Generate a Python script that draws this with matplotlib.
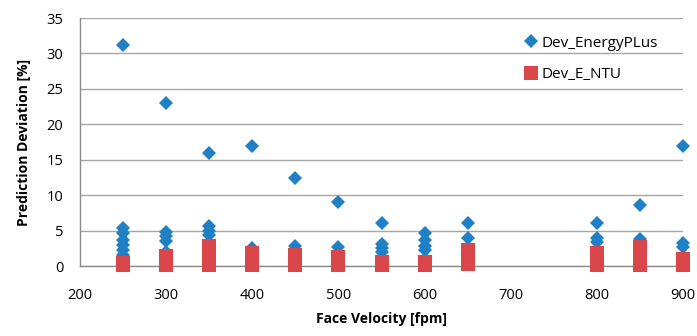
import matplotlib
matplotlib.use("Agg")
import matplotlib.pyplot as plt

# Face velocity categories [fpm]
velocities = [250, 300, 350, 400, 450, 500, 550, 600, 650, 800, 850, 900]

# Dev_EnergyPLus deviations [%] per velocity
dev_energyplus = [
    [31.2, 5.3, 4.6, 3.7, 3.0, 2.2, 1.5],
    [23.0, 4.8, 4.2, 3.5, 2.0],
    [16.0, 5.7, 5.0, 4.4, 3.0],
    [17.0, 2.6, 1.5],
    [12.4, 2.8, 1.5],
    [9.0, 2.7, 1.5],
    [6.0, 3.1, 2.6, 2.0, 1.0],
    [4.7, 3.6, 2.8, 2.2, 1.0],
    [6.1, 4.0, 2.0],
    [6.1, 3.9, 3.4, 1.5],
    [8.6, 3.8, 2.0],
    [17.0, 3.3, 2.7, 1.0],
]

# Dev_E_NTU deviations [%] per velocity
dev_e_ntu = [
    [0.2, 0.3, 0.4],
    [0.2, 0.5, 0.8, 1.1, 1.4],
    [0.2, 0.6, 1.0, 1.4, 1.8, 2.2, 2.8],
    [0.2, 0.6, 1.0, 1.4, 1.9],
    [0.2, 0.6, 1.0, 1.5],
    [0.2, 0.6, 1.0, 1.3],
    [0.2, 0.4, 0.5],
    [0.2, 0.4, 0.5],
    [0.35, 0.8, 1.3, 1.8, 2.3],
    [0.2, 0.6, 1.0, 1.4, 1.9],
    [0.2, 0.6, 1.0, 1.5, 2.0, 2.7],
    [0.2, 0.5, 0.8, 1.0],
]

x_ticks = [200, 300, 400, 500, 600, 700, 800, 900]
y_ticks = [0, 5, 10, 15, 20, 25, 30, 35]

plt.rcParams['font.family'] = ['Open Sans', 'DejaVu Sans']

fig = plt.figure(figsize=(6.97, 3.36), dpi=100)
ax = fig.add_axes([80/697, 70/336, (683-80)/697, (266-18)/336])

bx, by = [], []
for v, vals in zip(velocities, dev_energyplus):
    for y in vals:
        bx.append(v); by.append(y)
rx, ry = [], []
for v, vals in zip(velocities, dev_e_ntu):
    for y in vals:
        rx.append(v); ry.append(y)

blue = '#1f80c5'
red = '#da474a'
ax.plot(bx, by, linestyle='none', marker='D', markersize=6.8, color=blue,
        markeredgewidth=0, label='Dev_EnergyPLus', zorder=3, clip_on=False)
ax.plot(rx, ry, linestyle='none', marker='s', markersize=10.5, color=red,
        markeredgewidth=0, label='Dev_E_NTU', zorder=4, clip_on=False)

ax.set_xlim(200, 900)
ax.set_ylim(0, 35)
ax.set_xticks(x_ticks)
ax.set_yticks(y_ticks)
ax.tick_params(length=0, labelsize=10.5, colors='#000000')
ax.tick_params(axis='y', pad=12)
ax.tick_params(axis='x', pad=16)
ax.grid(axis='y', color='#a6a6a6', linewidth=1.0)
ax.set_axisbelow(True)
for s in ['top', 'right']:
    ax.spines[s].set_visible(False)
for s in ['left', 'bottom']:
    ax.spines[s].set_color('#8c8c8c')
    ax.spines[s].set_linewidth(1.0)

ax.set_xlabel('Face Velocity [fpm]', fontsize=10, fontweight='bold', labelpad=6)
ax.set_ylabel('Prediction Deviation [%]', fontsize=10, fontweight='bold', labelpad=11)

leg = ax.legend(loc='upper left', bbox_to_anchor=(0.72, 0.96), frameon=False,
                fontsize=11, labelspacing=1.1, handletextpad=0.1,
                handlelength=1.2, borderpad=0)

fig.savefig('out.png', dpi=100)
